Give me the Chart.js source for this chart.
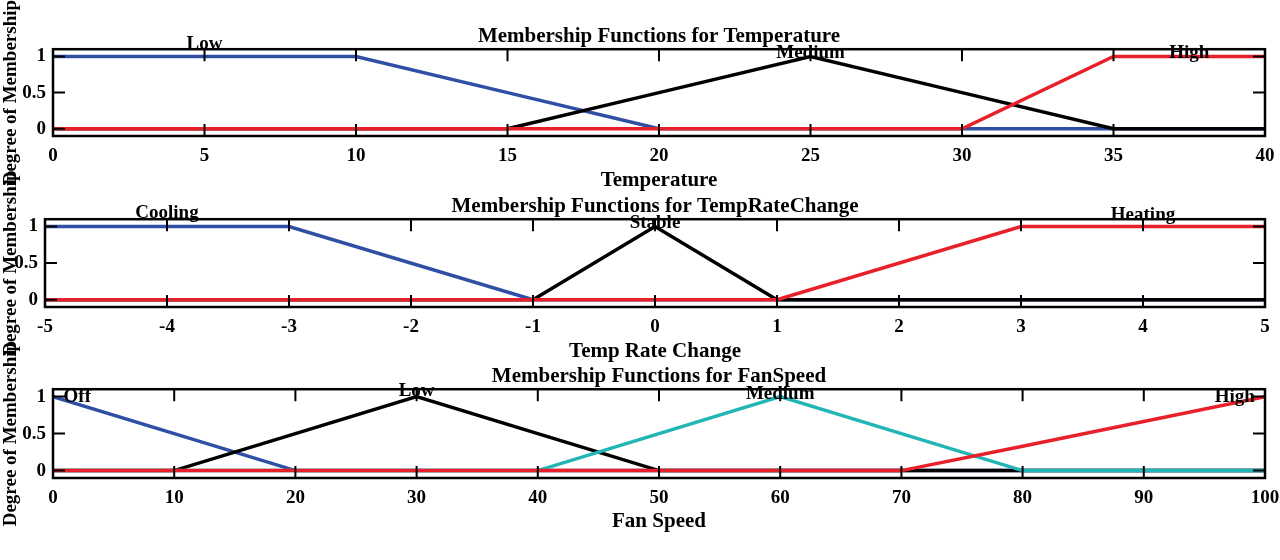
<!DOCTYPE html>
<html>
<head>
<meta charset="utf-8">
<script src="https://cdn.jsdelivr.net/npm/chart.js@4.4.0/dist/chart.umd.min.js"></script>
<style>
    html, body { margin: 0; padding: 0; background: #fff; }
    #wrap { position: relative; width: 1280px; height: 560px; overflow: hidden; }
    #wrap canvas { position: absolute; left: 0; top: 0; }
</style>
</head>
<body>
<div id="wrap">
    <canvas id="tempChart" width="1280" height="560"></canvas>
    <canvas id="rateChart" width="1280" height="560"></canvas>
    <canvas id="fanChart" width="1280" height="560"></canvas>
</div>
<script>
// 온도 멤버십 (Temperature)
var tempX = [0, 10, 15, 20, 25, 30, 35, 40];
var tempLow = [1, 1, 0.5, 0, 0, 0, 0, 0];
var tempMedium = [0, 0, 0, 0.5, 1, 0.5, 0, 0];
var tempHigh = [0, 0, 0, 0, 0, 0, 1, 1];
var tempNames = ['Low', 'Medium', 'High'];
var tempNameX = [5, 25, 37.5];
var tempNameY = [1.17, 1.04, 1.04];

// 온도 변화율 (TempRateChange)
var rateX = [-5, -3, -1, 0, 1, 3, 5];
var rateCooling = [1, 1, 0, 0, 0, 0, 0];
var rateStable = [0, 0, 0, 1, 0, 0, 0];
var rateHeating = [0, 0, 0, 0, 0, 1, 1];
var rateNames = ['Cooling', 'Stable', 'Heating'];
var rateNameX = [-4, 0, 4];
var rateNameY = [1.19, 1.04, 1.15];

// 팬 속도 (FanSpeed)
var fanX = [0, 10, 20, 30, 40, 50, 60, 70, 80, 100];
var fanOff = [1, 0.5, 0, 0, 0, 0, 0, 0, 0, 0];
var fanLow = [0, 0, 0.5, 1, 0.5, 0, 0, 0, 0, 0];
var fanMedium = [0, 0, 0, 0, 0, 0.5, 1, 0.5, 0, 0];
var fanHigh = [0, 0, 0, 0, 0, 0, 0, 0, 0.33, 1];
var fanNames = ['Off', 'Low', 'Medium', 'High'];
var fanNameX = [2, 30, 60, 97.5];
var fanNameY = [1.0, 1.07, 1.03, 1.0];

var yTicks = [0, 0.5, 1];

var BLUE = '#2f4fa5';
var BLACK = '#000000';
var CYAN = '#22b5b5';
var RED = '#e8202a';
var FONT = '"Liberation Serif", "Times New Roman", serif';

// 테두리 + 안쪽 눈금 + 멤버십 이름
var frameTicks = {
    id: 'frameTicks',
    afterDatasetsDraw: function(chart, args, opts) {
        var ctx = chart.ctx;
        var a = chart.chartArea;
        var xs = chart.scales.x;
        var ys = chart.scales.y;
        var len = 12;
        ctx.save();
        ctx.strokeStyle = '#000';
        ctx.lineWidth = 2;
        ctx.beginPath();
        xs.ticks.forEach(function(t) {
            var px = xs.getPixelForValue(t.value);
            ctx.moveTo(px, a.bottom); ctx.lineTo(px, a.bottom - len);
            ctx.moveTo(px, a.top); ctx.lineTo(px, a.top + len);
        });
        ys.ticks.forEach(function(t) {
            var py = ys.getPixelForValue(t.value);
            ctx.moveTo(a.left, py); ctx.lineTo(a.left + len, py);
            ctx.moveTo(a.right, py); ctx.lineTo(a.right - len, py);
        });
        ctx.stroke();
        ctx.lineWidth = 2.5;
        ctx.strokeRect(a.left, a.top, a.right - a.left, a.bottom - a.top);

        ctx.fillStyle = '#000';
        ctx.font = 'bold 19px ' + FONT;
        ctx.textAlign = 'center';
        ctx.textBaseline = 'middle';
        for (var i = 0; i < opts.names.length; i++) {
            ctx.fillText(opts.names[i], xs.getPixelForValue(opts.x[i]), ys.getPixelForValue(opts.y[i]));
        }
        ctx.restore();
    }
};

function makeSets(xs, series, colors) {
    var sets = [];
    for (var i = 0; i < series.length; i++) {
        var pts = [];
        for (var j = 0; j < xs.length; j++) {
            pts.push({ x: xs[j], y: series[i][j] });
        }
        sets.push({
            data: pts,
            borderColor: colors[i],
            borderWidth: 3.5,
            pointRadius: 0,
            tension: 0,
            fill: false
        });
    }
    // 나중에 그린 선이 위로 오도록
    sets.forEach(function(s, i) { s.order = sets.length - i; });
    return sets;
}

function makeChart(id, cfg) {
    var ctx = document.getElementById(id).getContext('2d');
    return new Chart(ctx, {
        type: 'line',
        data: { datasets: makeSets(cfg.xs, cfg.series, cfg.colors) },
        plugins: [frameTicks],
        options: {
            responsive: false,
            animation: false,
            layout: { padding: cfg.padding, autoPadding: false },
            plugins: {
                legend: { display: false },
                tooltip: { enabled: false },
                title: {
                    display: true,
                    text: cfg.title,
                    fullSize: false,
                    color: '#000',
                    font: { family: FONT, size: 21, weight: 'bold' },
                    padding: { top: 0, bottom: cfg.titleGap }
                },
                frameTicks: { names: cfg.names, x: cfg.nameX, y: cfg.nameY }
            },
            scales: {
                x: {
                    type: 'linear',
                    min: cfg.min,
                    max: cfg.max,
                    grid: { display: false, drawTicks: false },
                    border: { display: false },
                    ticks: {
                        stepSize: cfg.step,
                        color: '#000',
                        padding: 9,
                        maxRotation: 0,
                        font: { family: FONT, size: 19, weight: 'bold' }
                    },
                    title: {
                        display: true,
                        text: cfg.xTitle,
                        color: '#000',
                        padding: 0,
                        font: { family: FONT, size: 21, weight: 'bold' }
                    },
                    afterFit: function(scale) {
                        scale.height = cfg.xHeight;
                        scale.paddingLeft = 0;
                        scale.paddingRight = 0;
                    }
                },
                y: {
                    min: -0.1,
                    max: 1.1,
                    grid: { display: false, drawTicks: false },
                    border: { display: false },
                    afterBuildTicks: function(scale) {
                        scale.ticks = yTicks.map(function(v) { return { value: v }; });
                    },
                    ticks: {
                        color: '#000',
                        padding: 7,
                        font: { family: FONT, size: 19, weight: 'bold' },
                        callback: function(v) { return String(v); }
                    },
                    title: {
                        display: true,
                        text: 'Degree of Membership',
                        color: '#000',
                        padding: 0,
                        font: { family: FONT, size: 19, weight: 'bold' }
                    },
                    afterFit: function(scale) { scale.width = cfg.yWidth; }
                }
            }
        }
    });
}

makeChart('tempChart', {
    xs: tempX,
    series: [tempLow, tempMedium, tempHigh],
    colors: [BLUE, BLACK, RED],
    names: tempNames, nameX: tempNameX, nameY: tempNameY,
    title: 'Membership Functions for Temperature',
    xTitle: 'Temperature',
    min: 0, max: 40, step: 5,
    padding: { top: 24, bottom: 367, left: 0, right: 15 },
    titleGap: 0, xHeight: 57, yWidth: 53
});

makeChart('rateChart', {
    xs: rateX,
    series: [rateCooling, rateStable, rateHeating],
    colors: [BLUE, BLACK, RED],
    names: rateNames, nameX: rateNameX, nameY: rateNameY,
    title: 'Membership Functions for TempRateChange',
    xTitle: 'Temp Rate Change',
    min: -5, max: 5, step: 1,
    padding: { top: 194, bottom: 196, left: 0, right: 15 },
    titleGap: 0, xHeight: 57, yWidth: 45
});

makeChart('fanChart', {
    xs: fanX,
    series: [fanOff, fanLow, fanMedium, fanHigh],
    colors: [BLUE, BLACK, CYAN, RED],
    names: fanNames, nameX: fanNameX, nameY: fanNameY,
    title: 'Membership Functions for FanSpeed',
    xTitle: 'Fan Speed',
    min: 0, max: 100, step: 10,
    padding: { top: 364, bottom: 26, left: 0, right: 15 },
    titleGap: 0, xHeight: 56, yWidth: 53
});
</script>
</body>
</html>
